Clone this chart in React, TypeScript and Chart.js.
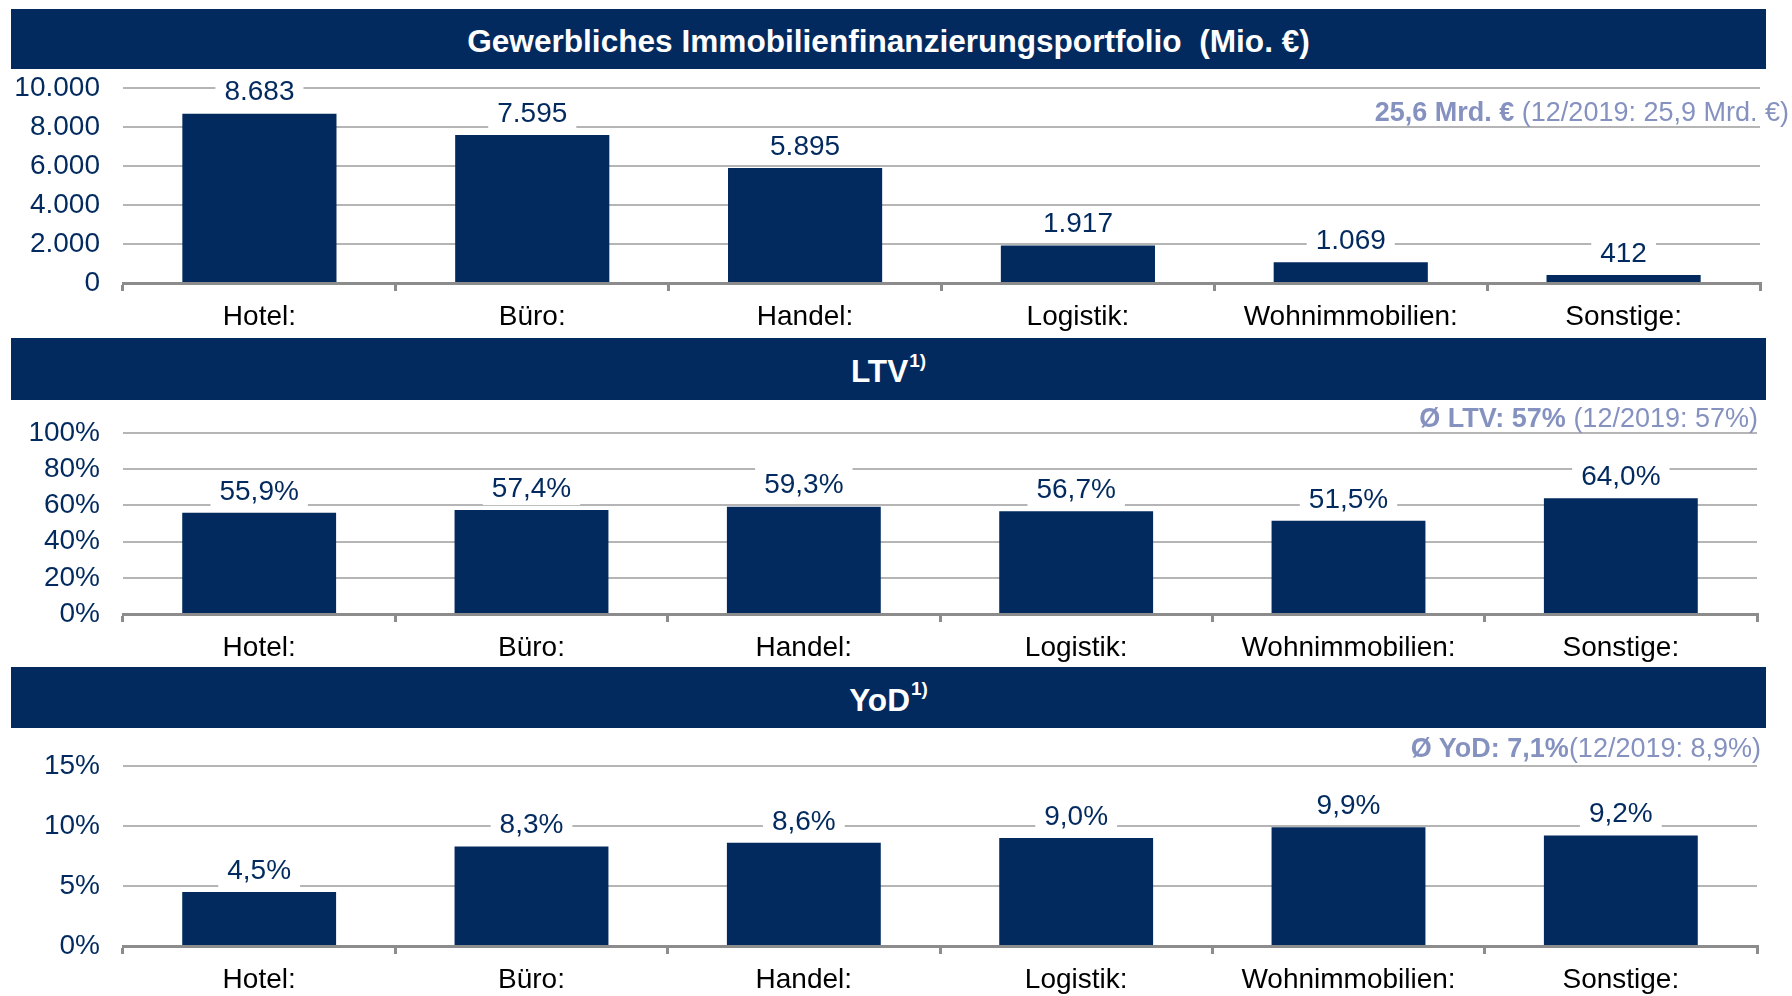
import React, { useEffect, useRef } from "react";
import { Chart, registerables } from "chart.js";

Chart.register(...registerables);

// ---------- data ----------
const categories = ["Hotel:", "Büro:", "Handel:", "Logistik:", "Wohnimmobilien:", "Sonstige:"];
const portfolioValues = [8683, 7595, 5895, 1917, 1069, 412];
const ltvValues = [55.9, 57.4, 59.3, 56.7, 51.5, 64.0];
const yodValues = [4.5, 8.3, 8.6, 9.0, 9.9, 9.2];

const portfolioTicks = ["0", "2.000", "4.000", "6.000", "8.000", "10.000"];
const ltvTicks = ["0%", "20%", "40%", "60%", "80%", "100%"];
const yodTicks = ["0%", "5%", "10%", "15%"];

const portfolioTitle = "Gewerbliches Immobilienfinanzierungsportfolio\u00a0\u00a0(Mio. €)";
const ltvTitle = "LTV";
const yodTitle = "YoD";
const footnoteMark = "1)";

const portfolioNoteBold = "25,6 Mrd. €";
const portfolioNote = " (12/2019: 25,9 Mrd. €)";
const ltvNoteBold = "Ø LTV: 57%";
const ltvNote = " (12/2019: 57%)";
const yodNoteBold = "Ø YoD: 7,1%";
const yodNote = "(12/2019: 8,9%)";

// ---------- styles ----------
const FONT = "'Liberation Sans', Arial, Helvetica, sans-serif";
const NAVY = "#022a5e";
const GRID = "#b5b5b5";
const AXIS = "#8c8c8c";
const NOTE = "#8592c0";

const fmtThousands = (v: number) => String(v).replace(/\B(?=(\d{3})+(?!\d))/g, ".");
const fmtPct = (v: number) => v.toFixed(1).replace(".", ",") + "%";

type PanelProps = {
  top: number;
  height: number;
  areaTop: number;
  areaBottom: number;
  right: number;
  values: number[];
  max: number;
  step: number;
  ticks: string[];
  format: (v: number) => string;
};

function BarPanel({ top, height, areaTop, areaBottom, right, values, max, step, ticks, format }: PanelProps) {
  const ref = useRef<HTMLCanvasElement | null>(null);
  useEffect(() => {
    if (!ref.current) return;
    const labelPlugin = {
      id: "barLabels",
      afterDatasetsDraw(chart: any) {
        const ctx = chart.ctx as CanvasRenderingContext2D;
        const meta = chart.getDatasetMeta(0);
        ctx.save();
        ctx.font = `28px ${FONT}`;
        ctx.textAlign = "center";
        ctx.textBaseline = "middle";
        meta.data.forEach((bar: any, i: number) => {
          const text = format(values[i]);
          const w = ctx.measureText(text).width;
          const cy = bar.y - 22;
          ctx.fillStyle = "#ffffff";
          ctx.fillRect(bar.x - w / 2 - 9, cy - 17, w + 18, 34);
          ctx.fillStyle = NAVY;
          ctx.fillText(text, bar.x, cy + 1);
        });
        ctx.restore();
      },
    };
    const chart = new Chart(ref.current, {
      type: "bar",
      data: {
        labels: categories,
        datasets: [
          {
            data: values,
            backgroundColor: NAVY,
            borderWidth: 0,
            barPercentage: 0.565,
            categoryPercentage: 1,
          },
        ],
      },
      options: {
        animation: false,
        responsive: false,
        maintainAspectRatio: false,
        layout: { padding: { left: 0, right, top: areaTop, bottom: 0 } },
        plugins: {
          legend: { display: false },
          tooltip: { enabled: false },
          title: { display: false },
        },
        scales: {
          x: {
            type: "category",
            offset: true,
            grid: {
              display: true,
              offset: true,
              drawOnChartArea: false,
              drawTicks: true,
              tickLength: 8,
              color: AXIS,
              lineWidth: 3,
            },
            border: { display: true, color: AXIS, width: 3 },
            ticks: {
              color: "#000000",
              font: { family: FONT, size: 28 },
              padding: 9,
              maxRotation: 0,
              autoSkip: false,
            },
            afterFit: (s: any) => {
              s.height = height - areaBottom;
            },
          },
          y: {
            min: 0,
            max,
            grid: {
              color: GRID,
              lineWidth: 2,
              drawTicks: true,
              tickLength: 23,
              tickColor: "rgba(0,0,0,0)",
            },
            border: { display: false },
            ticks: {
              stepSize: step,
              autoSkip: false,
              color: NAVY,
              font: { family: FONT, size: 28 },
              padding: 0,
              callback: (_v: any, i: number) => ticks[i],
            },
            afterFit: (s: any) => {
              s.width = 123;
            },
          },
        },
      },
      plugins: [labelPlugin],
    } as any);
    return () => chart.destroy();
  }, []);
  return (
    <canvas
      ref={ref}
      width={1792}
      height={height}
      style={{ position: "absolute", left: 0, top, width: 1792, height, display: "block" }}
    />
  );
}

function TitleBar({ top, height, children }: { top: number; height: number; children: React.ReactNode }) {
  return (
    <div
      style={{
        position: "absolute",
        left: 11,
        top,
        width: 1755,
        height,
        background: NAVY,
        color: "#ffffff",
        font: `bold 31.6px ${FONT}`,
        display: "flex",
        alignItems: "center",
        justifyContent: "center",
        paddingTop: 5,
        boxSizing: "border-box",
        whiteSpace: "nowrap",
      }}
    >
      {children}
    </div>
  );
}

function Note({ right, cy, bold, rest }: { right: number; cy: number; bold: string; rest: string }) {
  return (
    <div
      style={{
        position: "absolute",
        left: 0,
        width: right,
        top: cy - 16,
        height: 32,
        lineHeight: "32px",
        textAlign: "right",
        font: `27px ${FONT}`,
        color: NOTE,
        whiteSpace: "pre",
      }}
    >
      <b>{bold}</b>
      {rest}
    </div>
  );
}

const Sup = () => (
  <span style={{ fontSize: 19, position: "relative", top: -11, marginLeft: 1 }}>{footnoteMark}</span>
);

export default function App() {
  return (
    <div style={{ position: "fixed", left: 0, top: 0, width: 1792, height: 996, background: "#ffffff", overflow: "hidden" }}>
      <TitleBar top={9} height={60}>{portfolioTitle}</TitleBar>
      <BarPanel
        top={69}
        height={269}
        areaTop={19}
        areaBottom={214}
        right={32}
        values={portfolioValues}
        max={10000}
        step={2000}
        ticks={portfolioTicks}
        format={fmtThousands}
      />
      <Note right={1789} cy={113} bold={portfolioNoteBold} rest={portfolioNote} />

      <TitleBar top={338} height={62}>
        {ltvTitle}
        <Sup />
      </TitleBar>
      <BarPanel
        top={400}
        height={267}
        areaTop={33}
        areaBottom={214}
        right={35}
        values={ltvValues}
        max={100}
        step={20}
        ticks={ltvTicks}
        format={fmtPct}
      />
      <Note right={1758} cy={419} bold={ltvNoteBold} rest={ltvNote} />

      <TitleBar top={667} height={61}>
        {yodTitle}
        <Sup />
      </TitleBar>
      <BarPanel
        top={728}
        height={268}
        areaTop={38}
        areaBottom={218}
        right={35}
        values={yodValues}
        max={15}
        step={5}
        ticks={yodTicks}
        format={fmtPct}
      />
      <Note right={1761} cy={749} bold={yodNoteBold} rest={yodNote} />
    </div>
  );
}
